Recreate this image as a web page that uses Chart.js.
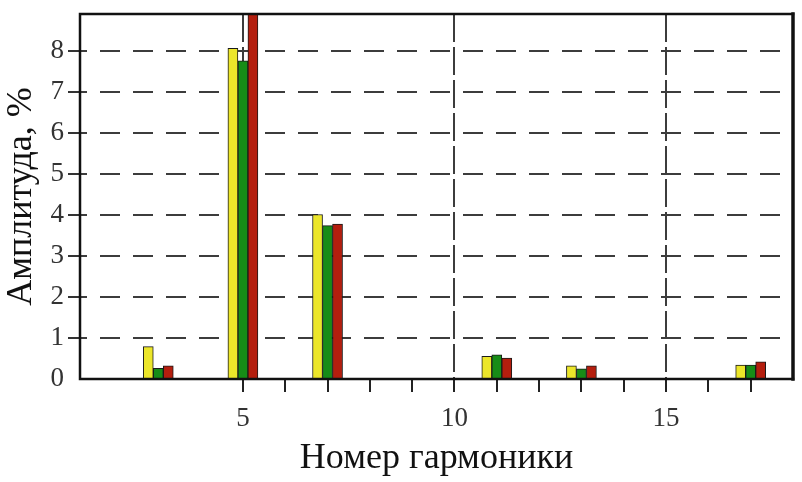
<!DOCTYPE html>
<html>
<head>
<meta charset="utf-8">
<script src="https://cdn.jsdelivr.net/npm/chart.js@4.4.1/dist/chart.umd.min.js"></script>
<style>
  body { margin: 0; background: #fff; }
  #wrap { width: 802px; height: 482px; }
</style>
</head>
<body>
<div id="wrap"><canvas id="grafico" width="802" height="482"></canvas></div>
<script>
// номера гармоник и амплитуды (%) трёх серий
const harmonics = [3, 5, 7, 11, 13, 17];
const ampYellow = [0.79, 8.06, 4.01, 0.55, 0.32, 0.34];
const ampGreen  = [0.26, 7.76, 3.74, 0.59, 0.25, 0.34];
const ampRed    = [0.32, 9.2, 3.78, 0.51, 0.32, 0.42];

const xTickValues = [5, 6, 7, 8, 9, 10, 11, 12, 13, 14, 15, 16, 17];
const xLabelValues = [5, 10, 15];
const yTickValues = [0, 1, 2, 3, 4, 5, 6, 7, 8];

const serif = '"Liberation Serif", "Times New Roman", serif';
const gridColor = '#3c3c3c';

function toPoints(values) {
    return harmonics.map((h, i) => ({ x: h, y: values[i] }));
}

function makeSet(values, color) {
    return {
        data: toPoints(values),
        backgroundColor: color,
        borderColor: '#1a1a1a',
        borderWidth: 1,
        barThickness: 10,
        clip: 0
    };
}

// рамка вокруг области графика
const framePlugin = {
    id: 'frame',
    afterDraw(chart) {
        const { ctx, chartArea: a } = chart;
        ctx.save();
        ctx.strokeStyle = '#111';
        ctx.lineCap = 'square';
        ctx.lineWidth = 2.5;
        ctx.beginPath();
        ctx.moveTo(a.left, a.top);
        ctx.lineTo(a.right, a.top);
        ctx.moveTo(a.left, a.top);
        ctx.lineTo(a.left, a.bottom);
        ctx.lineTo(a.right, a.bottom);
        ctx.stroke();
        ctx.lineWidth = 3.5;
        ctx.beginPath();
        ctx.moveTo(a.right, a.top);
        ctx.lineTo(a.right, a.bottom);
        ctx.stroke();
        ctx.restore();
    }
};

new Chart(document.getElementById('grafico'), {
    type: 'bar',
    data: {
        datasets: [
            makeSet(ampYellow, '#ece62a'),
            makeSet(ampGreen, '#178c17'),
            makeSet(ampRed, '#b41e0e')
        ]
    },
    options: {
        responsive: false,
        animation: false,
        devicePixelRatio: 1,
        layout: { padding: { top: 14, right: 9, left: 0, bottom: 0 } },
        plugins: { legend: { display: false }, tooltip: { enabled: false } },
        scales: {
            x: {
                type: 'linear',
                offset: false,
                min: 1.15,
                max: 18,
                afterBuildTicks: (scale) => { scale.ticks = xTickValues.map(v => ({ value: v })); },
                afterFit: (scale) => { scale.height = 103; scale.paddingLeft = 0; scale.paddingRight = 0; },
                grid: {
                    offset: false,
                    color: (c) => (c.tick && xLabelValues.includes(c.tick.value)) ? gridColor : 'rgba(0,0,0,0)',
                    lineWidth: 2,
                    tickColor: '#222',
                    tickWidth: 2,
                    tickLength: 13,
                    tickBorderDash: []
                },
                border: { display: false, dash: [28, 5], dashOffset: 0 },
                ticks: {
                    autoSkip: false,
                    maxRotation: 0,
                    padding: 11,
                    color: '#333',
                    font: { family: serif, size: 27 },
                    callback: (v) => xLabelValues.includes(v) ? String(v) : ''
                },
                title: {
                    display: true,
                    text: 'Номер гармоники',
                    color: '#111',
                    font: { family: serif, size: 36 },
                    padding: { top: 0, bottom: 2 }
                }
            },
            y: {
                min: 0,
                max: 8.9,
                afterBuildTicks: (scale) => { scale.ticks = yTickValues.map(v => ({ value: v })); },
                afterFit: (scale) => { scale.width = 80; scale.paddingTop = 0; scale.paddingBottom = 0; },
                grid: {
                    color: (c) => (c.tick && c.tick.value === 0) ? 'rgba(0,0,0,0)' : gridColor,
                    lineWidth: 2,
                    tickColor: (c) => (c.tick && c.tick.value === 0) ? 'rgba(0,0,0,0)' : '#333',
                    tickWidth: 2,
                    tickLength: 12,
                    tickBorderDash: []
                },
                border: { display: false, dash: [20, 13], dashOffset: 13 },
                ticks: {
                    padding: 4,
                    color: '#333',
                    font: { family: serif, size: 27 }
                },
                title: {
                    display: true,
                    text: 'Амплитуда, %',
                    color: '#111',
                    font: { family: serif, size: 36 },
                    padding: { top: 0, bottom: 0 }
                }
            }
        }
    },
    plugins: [framePlugin]
});
</script>
</body>
</html>
